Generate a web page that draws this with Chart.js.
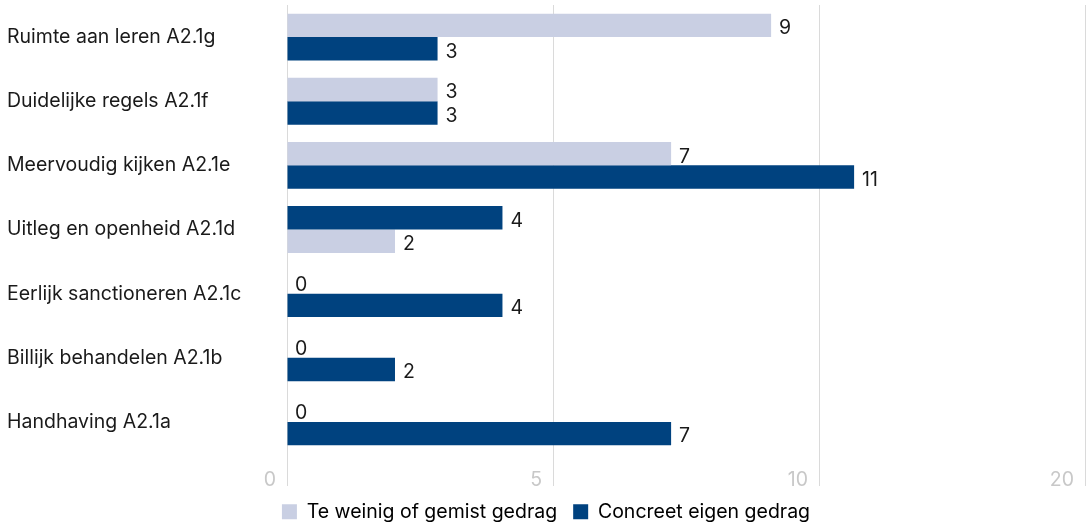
<!DOCTYPE html>
<html>
<head>
<meta charset="utf-8">
<script src="https://cdn.jsdelivr.net/npm/chart.js@4.4.1/dist/chart.umd.min.js"></script>
<style>
  html, body { margin: 0; padding: 0; background: #fff; }
  #wrap { width: 1091px; height: 523px; }
</style>
</head>
<body>
<div id="wrap"><canvas id="chart"></canvas></div>
<script>
const CATEGORIES = [
  'Ruimte aan leren A2.1g',
  'Duidelijke regels A2.1f',
  'Meervoudig kijken A2.1e',
  'Uitleg en openheid A2.1d',
  'Eerlijk sanctioneren A2.1c',
  'Billijk behandelen A2.1b',
  'Handhaving A2.1a'
];
const SERIES_NAMES = ['Te weinig of gemist gedrag', 'Concreet eigen gedrag'];
const TE_WEINIG = [9.1, 2.83, 7.22, 2.03, 0, 0, 0];
const CONCREET = [2.83, 2.83, 10.66, 4.05, 4.05, 2.03, 7.22];
// rows where the dark bar sits above the light one
const SWAPPED_ROWS = [3];
const TICK_VALUES = [0, 5, 10, 15];
const TICK_LABELS = ['0', '5', '10', '20'];

const COLORS = { light: '#c9cfe3', dark: '#00427f' };
const FONT = "Inter, 'Noto Sans', sans-serif";
const FONT_SIZE = 19.5;

// two bar slots per row (top / bottom), each bar coloured by its series
const slots = [0, 1].map(slot => {
  const values = [];
  const colors = [];
  CATEGORIES.forEach((c, i) => {
    const swap = SWAPPED_ROWS.includes(i);
    const useLight = (slot === 0) !== swap;
    values.push(useLight ? TE_WEINIG[i] : CONCREET[i]);
    colors.push(useLight ? COLORS.light : COLORS.dark);
  });
  return { values, colors };
});

const valueLabels = {
  id: 'valueLabels',
  afterDatasetsDraw(chart) {
    const ctx = chart.ctx;
    ctx.save();
    ctx.font = `${FONT_SIZE}px ${FONT}`;
    ctx.fillStyle = '#1a1a1a';
    ctx.textAlign = 'left';
    ctx.textBaseline = 'middle';
    chart.data.datasets.forEach((ds, di) => {
      chart.getDatasetMeta(di).data.forEach((bar, i) => {
        ctx.fillText(String(Math.round(ds.data[i])), bar.x + 8, bar.y + 3);
      });
    });
    ctx.restore();
  }
};

new Chart(document.getElementById('chart').getContext('2d'), {
  type: 'bar',
  data: {
    labels: CATEGORIES,
    datasets: slots.map(s => ({
      data: s.values,
      backgroundColor: s.colors,
      borderWidth: 0,
      barPercentage: 1,
      categoryPercentage: 0.73
    }))
  },
  options: {
    indexAxis: 'y',
    responsive: true,
    maintainAspectRatio: false,
    animation: false,
    layout: { padding: { left: 7, top: 5, right: 6, bottom: 0 } },
    plugins: {
      legend: {
        position: 'bottom',
        maxHeight: 37,
        labels: {
          font: { family: FONT, size: FONT_SIZE },
          color: '#1a1a1a',
          boxWidth: 15,
          boxHeight: 15,
          padding: 16,
          generateLabels: () => SERIES_NAMES.map((name, i) => ({
            text: name,
            fillStyle: i === 0 ? COLORS.light : COLORS.dark,
            strokeStyle: i === 0 ? COLORS.light : COLORS.dark,
            lineWidth: 0,
            datasetIndex: i
          }))
        },
        onClick: () => {}
      },
      tooltip: { enabled: false }
    },
    scales: {
      x: {
        min: 0,
        max: 15,
        afterBuildTicks: axis => {
          axis.ticks = TICK_VALUES.map(v => ({ value: v }));
        },
        ticks: {
          callback: (v, i) => TICK_LABELS[i],
          font: { family: FONT, size: FONT_SIZE },
          color: '#c8c8c8',
          align: 'end',
          labelOffset: -11,
          padding: -18,
          maxRotation: 0,
          autoSkip: false
        },
        grid: { color: '#dadada', lineWidth: 1, tickLength: 32 },
        border: { display: false },
        afterFit: axis => {
          axis.height = 32;
          axis.paddingLeft = 0;
          axis.paddingRight = 0;
        }
      },
      y: {
        ticks: {
          font: { family: FONT, size: FONT_SIZE },
          color: '#1a1a1a',
          crossAlign: 'far'
        },
        grid: { display: false },
        border: { display: false },
        afterFit: axis => {
          axis.width = 280;
          axis.paddingTop = 0;
          axis.paddingBottom = 0;
        }
      }
    }
  },
  plugins: [valueLabels]
});
</script>
</body>
</html>
